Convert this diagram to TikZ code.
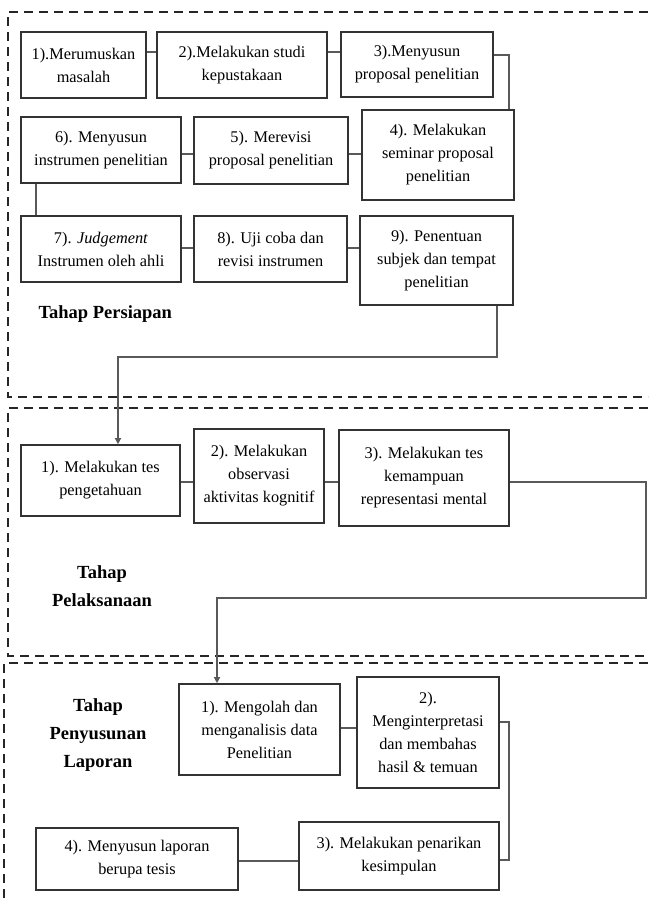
\documentclass[tikz,border=0pt]{standalone}
\usepackage{fontspec}
\setmainfont{Liberation Serif}
\usetikzlibrary{arrows.meta}
\begin{document}
\begin{tikzpicture}[x=1pt,y=-1pt,
  stepbox/.style={draw=black!80, line width=1.6pt, align=center, inner sep=0pt,
    font=\fontsize{16.3}{23}\selectfont, text=black},
  conn/.style={draw=black!65, line width=1.3pt},
  arr/.style={conn, -{Triangle[length=6pt,width=6pt]}},
  frame/.style={draw=black!85, line width=2.5pt, dash pattern=on 9pt off 6pt},
  title/.style={font=\bfseries\fontsize{18.5}{28}\selectfont, align=center, text=black}]
\useasboundingbox (0,0) rectangle (648,902);
% frames
\draw[frame] (648,12) -- (8,12) -- (8,397) -- (648,397);
\draw[frame] (648,408) -- (8,408) -- (8,656) -- (648,656);
\draw[frame] (648,663) -- (4,663) -- (4,902);
% stage 1
\node[stepbox, minimum width=125pt, minimum height=66pt] (a1) at (83.5,65) {1).Merumuskan\\masalah};
\node[stepbox, minimum width=170pt, minimum height=66pt] (a2) at (242,65) {2).Melakukan studi\\kepustakaan};
\node[stepbox, minimum width=152pt, minimum height=65pt] (a3) at (417,64.5) {3).Menyusun\\proposal penelitian};
\node[stepbox, minimum width=152pt, minimum height=90pt] (a4) at (438,155) {4). Melakukan\\seminar proposal\\penelitian};
\node[stepbox, minimum width=154pt, minimum height=67pt] (a5) at (271,150.5) {5). Merevisi\\proposal penelitian};
\node[stepbox, minimum width=160pt, minimum height=66pt] (a6) at (101,150) {6). Menyusun\\instrumen penelitian};
\node[stepbox, minimum width=160pt, minimum height=66pt] (a7) at (101,249) {7). \textit{Judgement}\\Instrumen oleh ahli};
\node[stepbox, minimum width=153pt, minimum height=66pt] (a8) at (270.5,249) {8). Uji coba dan\\revisi instrumen};
\node[stepbox, minimum width=153pt, minimum height=89pt] (a9) at (436.5,260.5) {9). Penentuan\\subjek dan tempat\\penelitian};
\node[title, anchor=west] (t1) at (35,314) {Tahap Persiapan};
% stage 2
\node[stepbox, minimum width=159pt, minimum height=71pt] (b1) at (100.5,480.5) {1). Melakukan tes\\pengetahuan};
\node[stepbox, minimum width=130pt, minimum height=94pt] (b2) at (259,476) {2). Melakukan\\observasi\\aktivitas kognitif};
\node[stepbox, minimum width=170pt, minimum height=96pt] (b3) at (424,478) {3). Melakukan tes\\kemampuan\\representasi mental};
\node[title] (t2) at (102,586) {Tahap\\Pelaksanaan};
% stage 3
\node[stepbox, minimum width=161pt, minimum height=91pt] (c1) at (259.5,729.5) {1). Mengolah dan\\menganalisis data\\Penelitian};
\node[stepbox, minimum width=142pt, minimum height=111pt] (c2) at (428,732.5) {2).\\Menginterpretasi\\dan membahas\\hasil \& temuan};
\node[stepbox, minimum width=200pt, minimum height=68pt] (c3) at (399,856) {3). Melakukan penarikan\\kesimpulan};
\node[stepbox, minimum width=202pt, minimum height=62pt] (c4) at (137,859) {4). Menyusun laporan\\berupa tesis};
\node[title] (t3) at (98,735) {Tahap\\Penyusunan\\Laporan};
% connectors stage 1
\draw[conn] (a1.east |- 0,52) -- (a2.west |- 0,52);
\draw[conn] (a2.east |- 0,52) -- (a3.west |- 0,52);
\coordinate (k1) at (509,55);
\draw[conn] (a3.east |- k1) -- (k1) -- (k1 |- a4.north);
\draw[conn] (a4.west |- 0,154) -- (a5.east |- 0,154);
\draw[conn] (a5.west |- 0,154) -- (a6.east |- 0,154);
\coordinate (k2) at (36,0);
\draw[conn] (k2 |- a6.south) -- (k2 |- a7.north);
\draw[conn] (a7.east |- 0,248) -- (a8.west |- 0,248);
\draw[conn] (a8.east |- 0,248) -- (a9.west |- 0,248);
\coordinate (k3) at (497,357);
\coordinate (k4) at (118,357);
\draw[arr] (k3 |- a9.south) -- (k3) -- (k4) -- (k4 |- b1.north);
% connectors stage 2
\draw[conn] (b1.east |- 0,482) -- (b2.west |- 0,482);
\draw[conn] (b2.east |- 0,482) -- (b3.west |- 0,482);
\coordinate (k5) at (646,482);
\coordinate (k6) at (646,598);
\coordinate (k7) at (217,598);
\draw[arr] (b3.east |- k5) -- (k5) -- (k6) -- (k7) -- (k7 |- c1.north);
% connectors stage 3
\draw[conn] (c1.east |- 0,728) -- (c2.west |- 0,728);
\coordinate (k8) at (509,722);
\coordinate (k9) at (509,860);
\draw[conn] (c2.east |- k8) -- (k8) -- (k9) -- (c3.east |- k9);
\draw[conn] (c3.west |- 0,861) -- (c4.east |- 0,861);
\end{tikzpicture}
\end{document}
